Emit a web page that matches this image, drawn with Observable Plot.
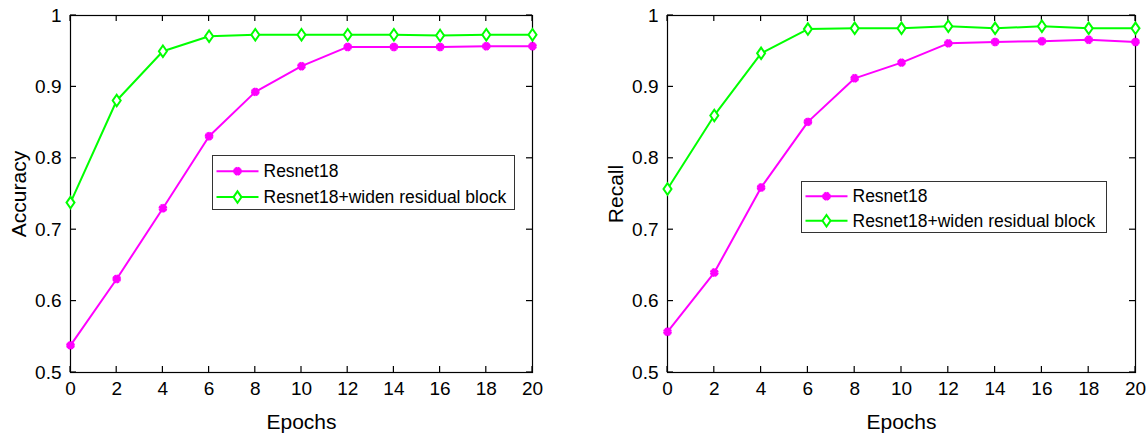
<!DOCTYPE html>
<html><head><meta charset="utf-8">
<script src="https://cdn.jsdelivr.net/npm/d3@7"></script>
<script src="https://cdn.jsdelivr.net/npm/@observablehq/plot@0.6"></script>
<style>
body{margin:0;background:#fff;}
#wrap{position:relative;width:1148px;height:436px;display:flex;}
g[aria-label$="axis label"]{font-size:21px;}
</style></head><body><div id="wrap"></div>
<script>
// ---- data ----
const epochs = [0, 2, 4, 6, 8, 10, 12, 14, 16, 18, 20];
const seriesNames = ["Resnet18", "Resnet18+widen residual block"];
const accResnet = [0.538, 0.631, 0.730, 0.831, 0.893, 0.929, 0.956, 0.956, 0.956, 0.957, 0.957];
const accWiden  = [0.738, 0.881, 0.950, 0.971, 0.973, 0.973, 0.973, 0.973, 0.972, 0.973, 0.973];
const recResnet = [0.557, 0.640, 0.759, 0.851, 0.912, 0.934, 0.961, 0.963, 0.964, 0.966, 0.963];
const recWiden  = [0.757, 0.860, 0.947, 0.981, 0.982, 0.982, 0.985, 0.982, 0.985, 0.982, 0.982];
const xTicks = [0, 2, 4, 6, 8, 10, 12, 14, 16, 18, 20];
const yTicks = [0.5, 0.6, 0.7, 0.8, 0.9, 1];
const yLabels = ["Accuracy", "Recall"];
const xLabel = "Epochs";

// ---- styles ----
const MAGENTA = "#ff00ff", GREEN = "#00ff00", AX = "#000000";
const FONT = "'Liberation Sans', Arial, sans-serif";
const asterisk = {draw(ctx, size) {
  const r = Math.sqrt(size / Math.PI);
  for (let k = 0; k < 4; k++) {
    const a = k * Math.PI / 4 + Math.PI / 8, dx = r * Math.cos(a), dy = r * Math.sin(a);
    ctx.moveTo(-dx, -dy); ctx.lineTo(dx, dy);
  }
}};
const diamond = {draw(ctx, size) {
  const r = Math.sqrt(size / Math.PI), h = r * 1.15, w = r * 0.8;
  ctx.moveTo(0, -h); ctx.lineTo(w, 0); ctx.lineTo(0, h); ctx.lineTo(-w, 0); ctx.closePath();
}};

const W = 574, H = 436, MT = 15, MB = 64, TICK = 6;

function chart({resnet, widen, ylabel, marginLeft, marginRight, legend}) {
  const a = epochs.map((e, i) => ({epoch: e, value: resnet[i]}));
  const b = epochs.map((e, i) => ({epoch: e, value: widen[i]}));
  const svg = Plot.plot({
    width: W, height: H,
    marginLeft, marginRight, marginTop: MT, marginBottom: MB,
    style: {fontFamily: FONT, fontSize: "19px", color: "#000", background: "#fff", overflow: "visible"},
    x: {domain: [0, 20]},
    y: {domain: [0.5, 1]},
    marks: [
      Plot.frame({stroke: AX, strokeWidth: 1.2}),
      Plot.axisX({ticks: xTicks, tickSize: 0, tickPadding: 9, tickFormat: d3.format("~g"),
        label: xLabel, labelAnchor: "center", labelOffset: 56, labelArrow: "none"}),
      Plot.axisY({ticks: yTicks, tickSize: 0, tickPadding: 9, tickFormat: d3.format("~g"),
        label: ylabel, labelAnchor: "center", labelOffset: 59, labelArrow: "none"}),
      Plot.line(a, {x: "epoch", y: "value", stroke: MAGENTA, strokeWidth: 2}),
      Plot.line(b, {x: "epoch", y: "value", stroke: GREEN, strokeWidth: 2}),
      Plot.dot(a, {x: "epoch", y: "value", symbol: asterisk, stroke: MAGENTA, strokeWidth: 2.6, r: 4.3}),
      Plot.dot(b, {x: "epoch", y: "value", symbol: diamond, stroke: GREEN, fill: "#fff", strokeWidth: 2, r: 5})
    ]
  });
  const s = d3.select(svg);
  // inward ticks on all four sides, placed with Plot's own scales
  const sx = svg.scale("x"), sy = svg.scale("y");
  const x0 = sx.range[0], x1 = sx.range[1], y0 = sy.range[0], y1 = sy.range[1];
  const tg = s.append("g").attr("stroke", AX).attr("stroke-width", 1.2);
  xTicks.forEach(t => {
    const px = sx.apply(t);
    tg.append("line").attr("x1", px).attr("x2", px).attr("y1", y0).attr("y2", y0 - TICK);
    tg.append("line").attr("x1", px).attr("x2", px).attr("y1", y1).attr("y2", y1 + TICK);
  });
  yTicks.forEach(t => {
    const py = sy.apply(t);
    tg.append("line").attr("x1", x0).attr("x2", x0 + TICK).attr("y1", py).attr("y2", py);
    tg.append("line").attr("x1", x1).attr("x2", x1 - TICK).attr("y1", py).attr("y2", py);
  });
  // lift the data marks above the ticks
  s.selectAll('g[aria-label="line"], g[aria-label="dot"]').raise();
  // legend box inside plot
  const g = s.append("g").attr("transform", `translate(${legend.x},${legend.y})`);
  g.append("rect").attr("width", legend.w).attr("height", legend.h)
    .attr("fill", "#fff").attr("stroke", "#333").attr("stroke-width", 1);
  const items = [
    {name: seriesNames[0], color: MAGENTA, sym: asterisk, fill: "none", sw: 2.6, r: 4.3},
    {name: seriesNames[1], color: GREEN, sym: diamond, fill: "#fff", sw: 2, r: 5}
  ];
  items.forEach((it, i) => {
    const cy = legend.h * (i === 0 ? 0.29 : 0.77);
    g.append("line").attr("x1", 4).attr("x2", 46).attr("y1", cy).attr("y2", cy)
      .attr("stroke", it.color).attr("stroke-width", 2);
    g.append("path").attr("transform", `translate(25,${cy})`)
      .attr("d", d3.symbol(it.sym, it.r * it.r * Math.PI)())
      .attr("stroke", it.color).attr("fill", it.fill).attr("stroke-width", it.sw);
    g.append("text").attr("x", 51).attr("y", cy).attr("dy", "0.35em")
      .attr("text-anchor", "start")
      .attr("font-family", FONT).attr("font-size", "17.5px").attr("fill", "#000")
      .text(it.name);
  });
  return svg;
}

const wrap = document.getElementById("wrap");
wrap.append(chart({resnet: accResnet, widen: accWiden, ylabel: yLabels[0],
  marginLeft: 70, marginRight: 42, legend: {x: 212.5, y: 155.5, w: 302, h: 54}}));
wrap.append(chart({resnet: recResnet, widen: recWiden, ylabel: yLabels[1],
  marginLeft: 93, marginRight: 13, legend: {x: 227.5, y: 181.5, w: 305, h: 51}}));
</script></body></html>
